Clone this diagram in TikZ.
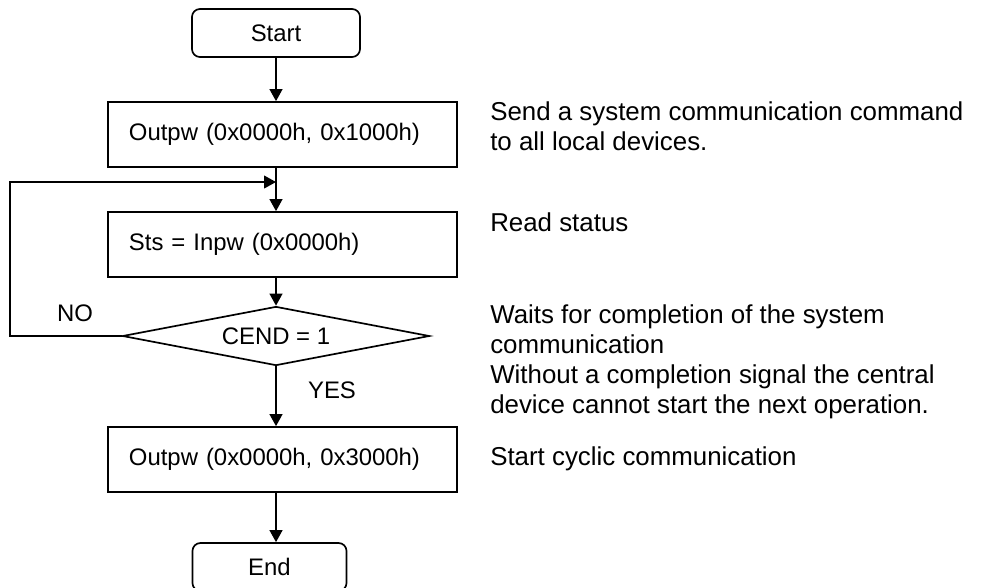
\documentclass[tikz,border=0pt]{standalone}
\usepackage{fontspec}
\setmainfont{Liberation Sans}
\usetikzlibrary{arrows.meta,positioning,shapes.geometric}

\begin{document}
\begin{tikzpicture}[
    x=0.025cm, y=-0.025cm,
    terminal/.style={rectangle, draw, rounded corners=0.2cm, line width=1.2pt, minimum height=1.2cm, align=center, font=\fontsize{17}{20}\selectfont},
    stepbox/.style={rectangle, draw, line width=1.2pt, text width=7.675cm, inner xsep=0.525cm, minimum height=1.625cm, align=left, font=\fontsize{17}{20}\selectfont},
    decision/.style={diamond, draw, line width=1.2pt, inner sep=0pt, aspect=5.2, minimum width=7.675cm, minimum height=1.475cm, font=\fontsize{17}{20}\selectfont},
    arrow/.style={-{Triangle[length=0.3cm, width=0.32cm]}, line width=1.2pt},
    label/.style={font=\fontsize{17}{20}\selectfont},
    remark/.style={anchor=west, inner sep=0pt, align=left, font=\fontsize{18.4}{21.3}\selectfont},
]
    \clip (0,0) rectangle (984,587);

    % Flow chart (left side)
    \node[terminal, minimum width=4.2cm] (start) at (276, 33) {Start};
    \node[stepbox] (send) at (282.5, 134.5) {Outpw (0x0000h, 0x1000h)};
    \node[stepbox] (read) at (282.5, 244.5) {Sts = Inpw (0x0000h)};
    \node[decision] (cend) at (276, 336) {CEND = 1};
    \node[stepbox] (cyclic) at (282.5, 459.5) {Outpw (0x0000h, 0x3000h)};
    \node[terminal, minimum width=3.85cm] (finish) at (269.5, 567) {End};

    \coordinate (loopcorner) at (10, 182);
    \coordinate (merge) at (276, 182);

    % Arrows down the chart
    \draw[arrow] (start.south) -- (start.south |- send.north);
    \draw[arrow] (start.south |- send.south) -- (start.south |- read.north);
    \draw[arrow] (start.south |- read.south) -- (cend.north);
    \draw[arrow] (cend.south) -- (cend.south |- cyclic.north);
    \draw[arrow] (start.south |- cyclic.south) -- (start.south |- finish.north);

    % Loop back while not finished
    \draw[arrow] (cend.west) -| (loopcorner) -- (merge);
    \node[label] (no) at (75, 313) {NO};
    \node[label] (yes) at (332, 390) {YES};

    % Remarks (right side)
    \node[remark] (remsend) at (490, 126) {Send a system communication command\\to all local devices.};
    \node[remark] (remread) at (490, 222) {Read status};
    \node[remark] (remwait) at (490, 362) {Waits for completion of the system\\communication\\Without a completion signal the central\\device cannot start the next operation.};
    \node[remark] (remcyclic) at (490, 459) {Start cyclic communication};
\end{tikzpicture}
\end{document}
